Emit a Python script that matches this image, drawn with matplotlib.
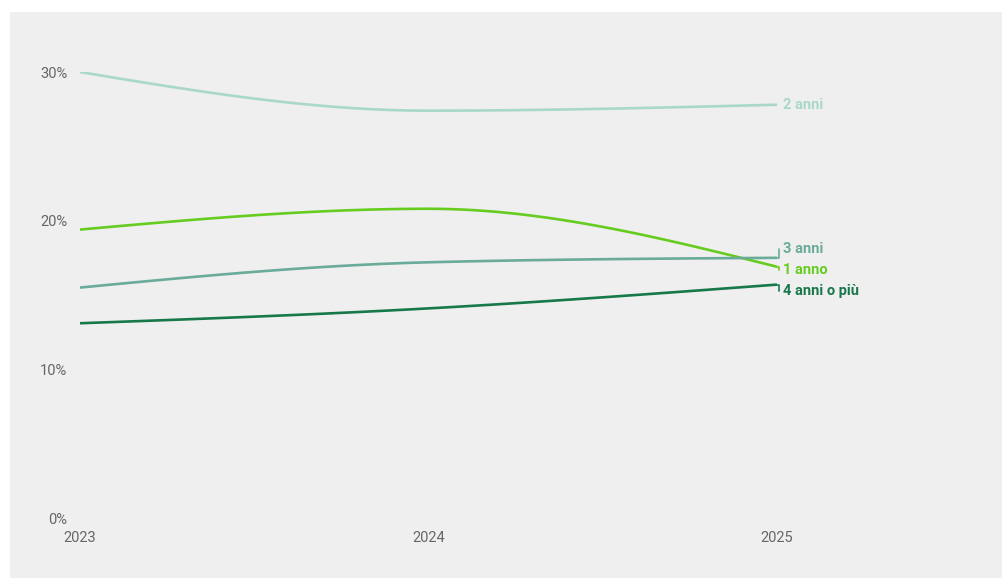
import numpy as np
import matplotlib.pyplot as plt
from matplotlib.patches import Rectangle

plt.rcParams['font.family'] = ['Roboto', 'DejaVu Sans']

anni = [2023, 2024, 2025]
serie = ['2 anni', '1 anno', '3 anni', '4 anni o più']
valori = {
    '2 anni': [30.0, 27.4, 27.8],
    '1 anno': [19.4, 20.8, 16.9],
    '3 anni': [15.5, 17.2, 17.5],
    '4 anni o più': [13.1, 14.1, 15.7],
}
colori = {
    '2 anni': '#a9d8ca',
    '1 anno': '#66cc1f',
    '3 anni': '#6aab9a',
    '4 anni o più': '#17784a',
}
# spostamento verticale (pt) delle etichette finali
spost = {'2 anni': 0, '1 anno': -2.2, '3 anni': 6.5, '4 anni o più': -4.5}


def monotone(x, y, n=60):
    # curva monotona cubica (stile d3 curveMonotoneX)
    x = np.asarray(x, float)
    y = np.asarray(y, float)
    h = np.diff(x)
    s = np.diff(y) / h
    t = np.zeros(len(x))
    for i in range(1, len(x) - 1):
        p = (s[i - 1] * h[i] + s[i] * h[i - 1]) / (h[i - 1] + h[i])
        t[i] = (np.sign(s[i - 1]) + np.sign(s[i])) * min(abs(s[i - 1]), abs(s[i]), 0.5 * abs(p))
    t[0] = (3 * s[0] - t[1]) / 2
    t[-1] = (3 * s[-1] - t[-2]) / 2
    xs, ys = [], []
    for i in range(len(x) - 1):
        u = np.linspace(0, 1, n)
        dx = h[i] / 3
        p0 = (x[i], y[i])
        p1 = (x[i] + dx, y[i] + dx * t[i])
        p2 = (x[i + 1] - dx, y[i + 1] - dx * t[i + 1])
        p3 = (x[i + 1], y[i + 1])
        b = [(1 - u) ** 3, 3 * (1 - u) ** 2 * u, 3 * (1 - u) * u ** 2, u ** 3]
        xs.append(sum(bi * pi[0] for bi, pi in zip(b, (p0, p1, p2, p3))))
        ys.append(sum(bi * pi[1] for bi, pi in zip(b, (p0, p1, p2, p3))))
    return np.concatenate(xs), np.concatenate(ys)


fig = plt.figure(figsize=(10.02, 5.8), dpi=100)
fig.patch.set_facecolor('white')
fondo = Rectangle((10 / 1002, 2 / 580), 1, 566 / 580,
                  transform=fig.transFigure, facecolor='#efefef',
                  edgecolor='none', zorder=-10)
fig.add_artist(fondo)

ax = fig.add_axes([80 / 1002, 62 / 580, 697 / 1002, 446 / 580])
ax.set_zorder(1)
ax.set_facecolor('none')
ax.set_xlim(2023, 2025)
ax.set_ylim(0, 30)

for nome in serie:
    xs, ys = monotone(anni, valori[nome])
    ax.plot(xs, ys, color=colori[nome], lw=1.9, solid_capstyle='butt', zorder=3)
    v = valori[nome][-1]
    if spost[nome] != 0:
        ax.annotate('', xy=(anni[-1], v), xytext=(1.5, spost[nome]),
                    textcoords='offset points',
                    arrowprops=dict(arrowstyle='-', color=colori[nome], lw=1.2,
                                    shrinkA=0, shrinkB=0,
                                    connectionstyle='angle,angleA=90,angleB=0'),
                    annotation_clip=False)
    ax.annotate(nome, xy=(anni[-1], v), xytext=(4.5, spost[nome]),
                textcoords='offset points', ha='left', va='center',
                fontsize=10.5, fontweight='bold', color=colori[nome],
                annotation_clip=False)

ax.set_xticks(anni)
ax.set_xticklabels([str(a) for a in anni])
ax.set_yticks([0, 10, 20, 30])
ax.set_yticklabels(['0%', '10%', '20%', '30%'])
ax.tick_params(length=0, labelsize=10.5, colors='#666666')
ax.tick_params(axis='y', pad=9)
ax.tick_params(axis='x', pad=9)
for sp in ax.spines.values():
    sp.set_visible(False)

fig.savefig('out.png', dpi=100)
